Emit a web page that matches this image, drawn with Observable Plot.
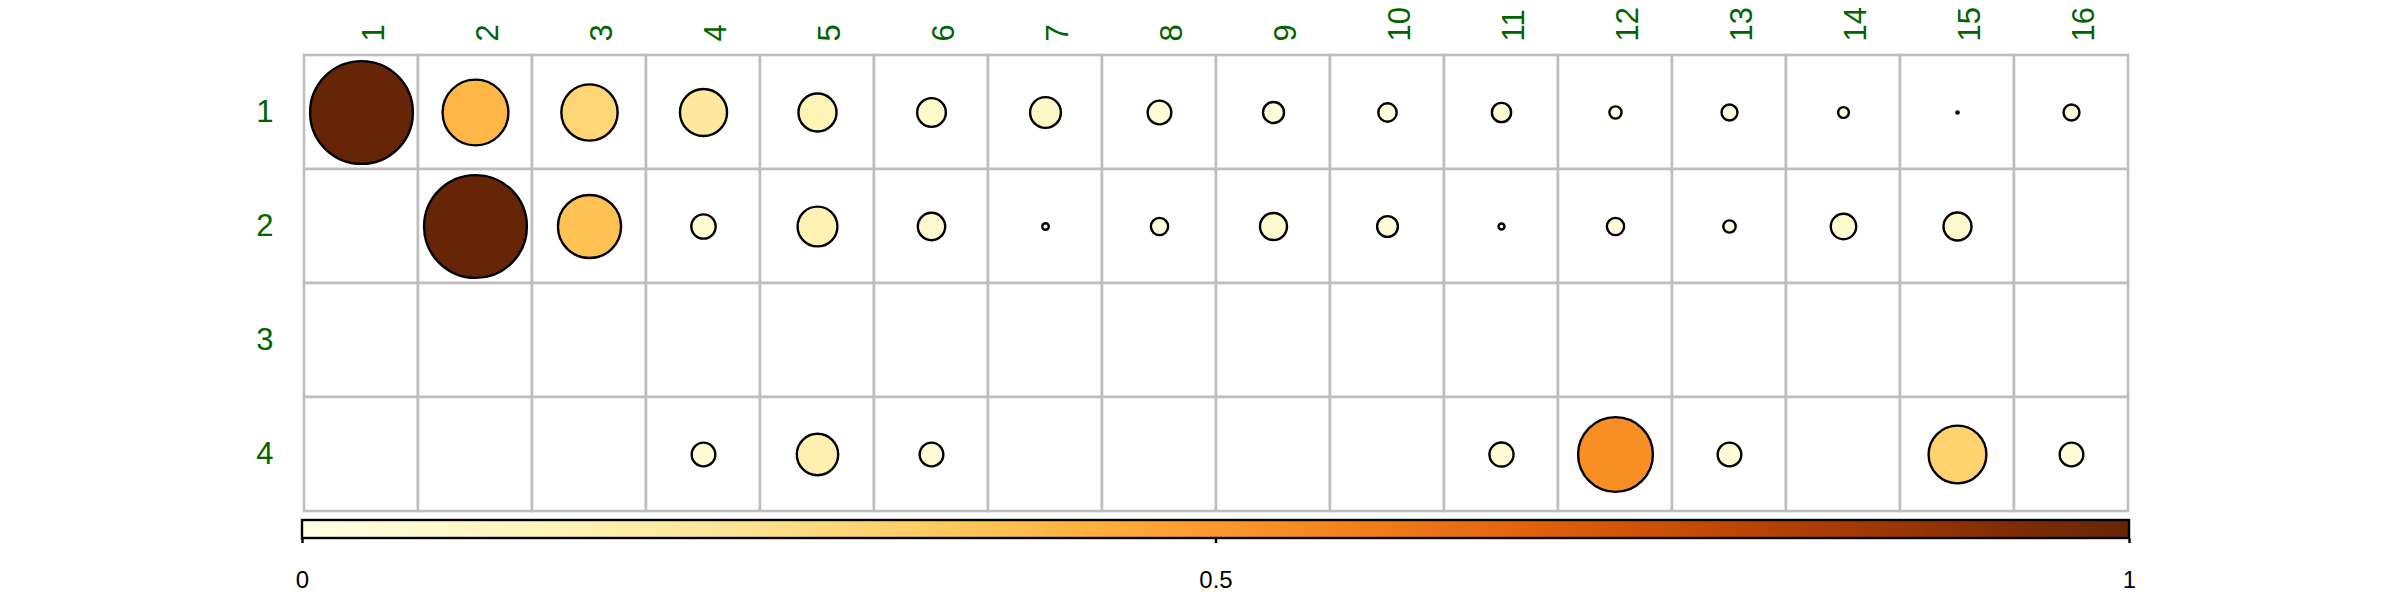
<!DOCTYPE html>
<html>
<head>
<meta charset="utf-8">
<script src="https://cdn.jsdelivr.net/npm/d3@7"></script>
<script src="https://cdn.jsdelivr.net/npm/@observablehq/plot@0.6"></script>
<style>
  html, body { margin: 0; padding: 0; background: #ffffff; }
  #chart svg { display: block; }
</style>
</head>
<body>
<div id="chart"></div>
<script>
// ---- data ----
const columnLabels = ["1","2","3","4","5","6","7","8","9","10","11","12","13","14","15","16"];
const rowLabels = ["1","2","3","4"];
const row1Values = [1.00, 0.41, 0.30, 0.21, 0.137, 0.078, 0.09, 0.053, 0.042, 0.032, 0.035, 0.014, 0.024, 0.011, 0.0005, 0.024];
const row2Values = [null, 1.00, 0.377, 0.056, 0.15, 0.071, 0.004, 0.028, 0.069, 0.041, 0.0034, 0.028, 0.0144, 0.061, 0.074, null];
const row3Values = [null, null, null, null, null, null, null, null, null, null, null, null, null, null, null, null];
const row4Values = [null, null, null, 0.053, 0.162, 0.053, null, null, null, null, 0.055, 0.53, 0.053, null, 0.316, 0.053];
const colorbarDomain = [0, 1];
const colorbarTicks = [0, 0.5, 1];
const colorbarTickLabels = ["0", "0.5", "1"];

const rowSeries = [row1Values, row2Values, row3Values, row4Values];
const cells = [];
rowLabels.forEach((r, i) => columnLabels.forEach((c, j) => cells.push({row: r, col: c, value: rowSeries[i][j]})));
const points = cells.filter(d => d.value != null);

const FONT = "Liberation Sans, Arial, Helvetica, sans-serif";
const colorScale = {type: "linear", scheme: "YlOrBr", domain: colorbarDomain};

const main = Plot.plot({
  width: 2400,
  height: 515,
  marginLeft: 302,
  marginRight: 271,
  marginTop: 55,
  marginBottom: 4,
  style: {fontFamily: FONT, background: "white"},
  x: {type: "band", domain: columnLabels, padding: 0, axis: null},
  y: {type: "band", domain: rowLabels, padding: 0, axis: null},
  color: colorScale,
  r: {type: "sqrt", domain: [0, 1], range: [0, 51.4]},
  marks: [
    Plot.cell(cells, {x: "col", y: "row", fill: "white", stroke: "#bebebe", strokeWidth: 2.6}),
    Plot.dot(points, {x: "col", y: "row", r: "value", fill: "value", stroke: "black", strokeWidth: 2.4}),
    Plot.text(columnLabels, {x: d => d, frameAnchor: "top", dy: -14, rotate: -90, textAnchor: "start",
      fill: "#006400", fontSize: 31, fontFamily: FONT}),
    Plot.text(rowLabels, {y: d => d, frameAnchor: "left", dx: -29, textAnchor: "end",
      fill: "#006400", fontSize: 31, fontFamily: FONT})
  ]
});

const gradientMark = Plot.raster
  ? Plot.raster({x1: colorbarDomain[0], x2: colorbarDomain[1], y1: 0, y2: 1, width: 600, height: 1, fill: (x, y) => x})
  : Plot.rect(d3.range(0, 1, 1 / 600), {x1: d => d, x2: d => d + 1 / 600 + 0.0005, y1: 0, y2: 1, fill: d => d});

const bar = Plot.plot({
  width: 2400,
  height: 85,
  marginLeft: 302,
  marginRight: 271,
  marginTop: 5,
  marginBottom: 13,
  style: {fontFamily: FONT, background: "white"},
  x: {type: "linear", domain: colorbarDomain, range: [302, 2129], axis: null},
  y: {type: "linear", domain: [0, 1], range: [5, 23], axis: null},
  color: colorScale,
  marks: [
    gradientMark,
    Plot.rect([colorbarDomain], {x1: d => d[0], x2: d => d[1], y1: 0, y2: 1, fill: "none", stroke: "black", strokeWidth: 2.4}),
    Plot.ruleX(colorbarTicks, {x: d => d, y1: 1, y2: 1.28, stroke: "black", strokeWidth: 2.4}),
    Plot.text(colorbarTicks, {x: d => d, text: (d, i) => colorbarTickLabels[i], frameAnchor: "bottom",
      fill: "black", fontSize: 24, fontFamily: FONT})
  ]
});

const chart = document.getElementById("chart");
chart.appendChild(main);
chart.appendChild(bar);
</script>
</body>
</html>
